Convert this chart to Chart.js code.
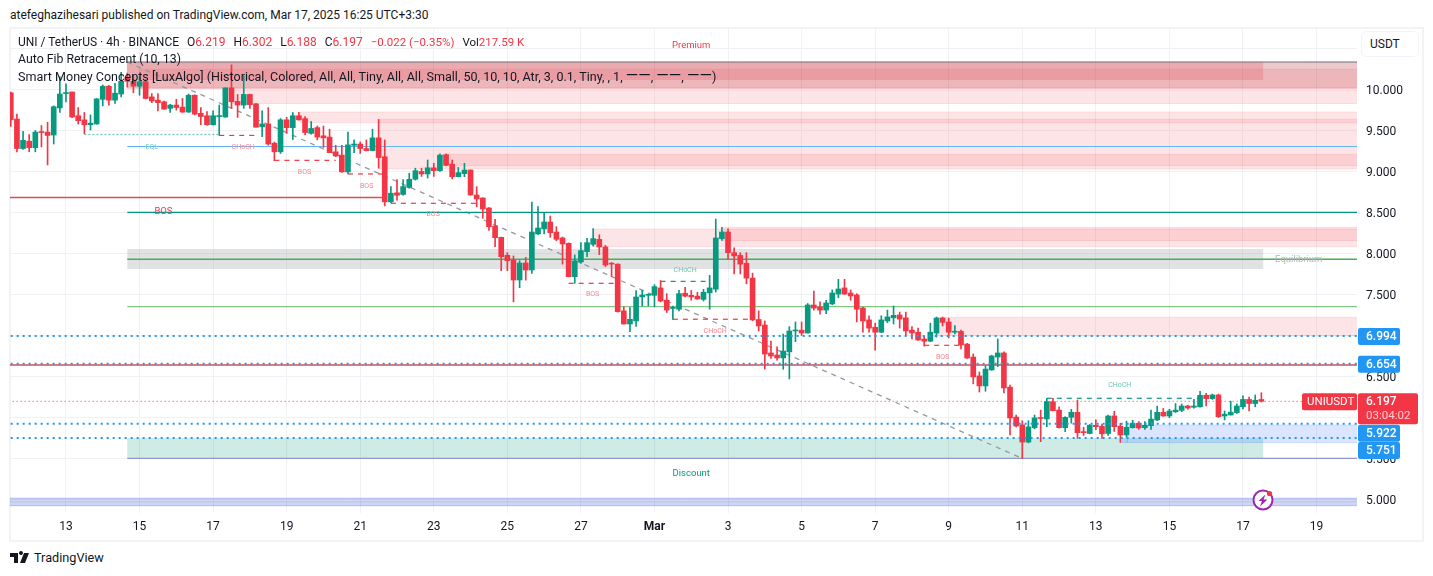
<!DOCTYPE html>
<html>
<head>
<meta charset="utf-8">
<title>UNI / TetherUS</title>
<script src="https://cdn.jsdelivr.net/npm/chart.js@4"></script>
<style>
  html, body { margin: 0; padding: 0; background: #fff; width: 1433px; height: 576px; overflow: hidden; font-family: Roboto, sans-serif; color: #131722; }
  #published { position: absolute; left: 10px; top: 7px; font-size: 12px; line-height: 16px; white-space: nowrap; }
  #frame { position: absolute; left: 9px; top: 27px; width: 1411px; height: 511px; border: 2px solid #f2f3f5; }
  #chart { position: absolute; left: 10px; top: 28px; }
  .legend-line { position: absolute; left: 18px; font-size: 12.3px; line-height: 16px; white-space: nowrap; }
  .legend-line b { font-weight: 400; color: #f23645; }
  .legend-line span { margin-left: 8px; }
  .legend-line span.tight { font-size: 11.5px; }
  .legend-line i { font-style: normal; font-size: 16px; }
  #unit { position: absolute; left: 1361px; top: 31px; width: 48px; height: 24px; padding-left: 8px; border: 1px solid #f0f3fa; border-radius: 6px; background: #fff; font-size: 12px; line-height: 24px; }
  #brand { position: absolute; left: 10px; top: 550px; height: 16px; }
  #brand-name { position: absolute; left: 34px; top: 550px; font-size: 12.7px; line-height: 16px; }
  #bolt { position: absolute; left: 1250px; top: 487px; }
</style>
</head>
<body>
<div id="published">atefeghazihesari published on TradingView.com, Mar 17, 2025 16:25 UTC+3:30</div>
<div id="frame"></div>
<canvas id="chart" width="1414" height="513"></canvas>
<div class="legend-line" style="top:34px;font-size:12px">UNI / TetherUS · 4h · BINANCE<span>O<b>6.219</b></span><span>H<b>6.302</b></span><span>L<b>6.188</b></span><span>C<b>6.197</b></span><span class="tight"><b>−0.022 (−0.35%)</b></span><span class="tight">Vol<b>217.59 K</b></span></div>
<div class="legend-line" style="top:51px">Auto Fib Retracement (10, 13)</div>
<div class="legend-line" style="top:68px;font-size:12.55px">Smart Money Concepts [LuxAlgo] (Historical, Colored, All, All, Tiny, All, All, Small, 50, 10, 10, Atr, 3, 0.1, Tiny, , 1, <i>——</i>, <i>——</i>, <i>——</i>)</div>
<div id="unit">USDT</div>
<svg id="brand" width="20" height="16" viewBox="0 0 20 16"><path fill="#131722" d="M0 3h8v10H4V7H0zM9 3a2 2 0 1 1 0 .01zM14 3h5l-4 10h-5z"/></svg>
<div id="brand-name">TradingView</div>
<svg id="bolt" width="27" height="27" viewBox="0 0 27 27">
  <circle cx="13" cy="13" r="9.5" fill="#fff" stroke="#9c27b0" stroke-width="2"/>
  <path fill="#9c27b0" d="M15.5 7.5 8.5 14h3.5l-2 5.5 7.5-7h-4z"/>
  <circle cx="19.5" cy="6.5" r="2.6" fill="#f23645"/>
</svg>
<script>
// candle 0 is the one sitting on the "13" tick, candles are 4h apart
const firstCandle = -9
const candleOpen = [
  9.96, 9.64, 9.28, 9.37, 9.29, 9.485, 9.48, 9.445, 9.775, 9.95,
  9.97, 9.68, 9.63, 9.57, 9.58, 9.88, 10.04, 9.87, 9.945, 10.15,
  10.1, 10.04, 10.095, 9.91, 9.87, 9.85, 9.77, 9.81, 9.785, 9.725,
  9.93, 9.71, 9.68, 9.57, 9.67, 9.665, 10.02, 9.855, 9.81, 9.94,
  9.825, 9.545, 9.58, 9.345, 9.24, 9.63, 9.535, 9.68, 9.645, 9.465,
  9.535, 9.435, 9.42, 9.24, 9.2, 8.995, 9.32, 9.335, 9.28, 9.255,
  9.41, 9.18, 8.63, 8.74, 8.72, 8.805, 8.905, 9.0, 8.97, 9.045,
  9.01, 9.205, 9.09, 8.937, 8.974, 9.018, 8.713, 8.677, 8.555, 8.335,
  8.197, 7.978, 7.92, 7.677, 7.884, 7.799, 8.238, 8.3, 8.384, 8.262,
  8.19, 8.124, 7.717, 7.897, 8.023, 8.112, 8.173, 8.08, 7.875, 7.87,
  7.3, 7.14, 7.177, 7.47, 7.49, 7.49, 7.58, 7.43, 7.33, 7.32,
  7.515, 7.49, 7.48, 7.44, 7.52, 7.565, 8.18, 8.262, 8.01, 7.977,
  7.88, 7.7, 7.195, 7.128, 6.787, 6.762, 6.726, 6.8, 7.055, 7.065,
  7.03, 7.372, 7.347, 7.31, 7.385, 7.505, 7.58, 7.518, 7.495, 7.335,
  7.19, 7.1, 7.04, 7.177, 7.215, 7.25, 7.215, 7.065, 7.04, 6.957,
  6.93, 7.03, 7.213, 7.165, 7.04, 7.05, 6.895, 6.737, 6.507, 6.385,
  6.58, 6.737, 6.787, 6.37, 6.005, 5.91, 5.7, 5.875, 5.994, 5.982,
  6.193, 6.09, 5.876, 6.002, 6.063, 5.82, 5.805, 5.905, 5.895, 5.805,
  6.018, 5.895, 5.787, 5.876, 5.93, 5.876, 5.9, 5.97, 6.063, 6.018,
  6.07, 6.087, 6.14, 6.125, 6.13, 6.27, 6.23, 6.275, 6.018, 6.03,
  6.06, 6.13, 6.22, 6.17, 6.219,
]
const candleHigh = [
  9.97, 9.7, 9.49, 9.45, 9.5, 9.56, 9.6, 9.8, 10.155, 10.07,
  9.97, 9.78, 9.72, 9.69, 9.89, 10.055, 10.05, 10.075, 10.21, 10.2,
  10.18, 10.155, 10.12, 9.95, 9.95, 9.86, 9.82, 9.88, 9.89, 9.945,
  9.935, 9.78, 9.73, 9.74, 9.81, 10.02, 10.3, 9.94, 10.16, 9.945,
  9.83, 9.74, 9.78, 9.36, 9.645, 9.66, 9.72, 9.72, 9.67, 9.61,
  9.555, 9.555, 9.515, 9.32, 9.32, 9.48, 9.385, 9.36, 9.385, 9.515,
  9.635, 9.385, 8.815, 8.9, 8.9, 8.98, 9.04, 9.04, 9.14, 9.1,
  9.215, 9.215, 9.14, 9.05, 9.1, 9.02, 8.815, 8.68, 8.56, 8.417,
  8.2, 8.01, 7.97, 7.913, 7.953, 8.628, 8.571, 8.498, 8.457, 8.327,
  8.2, 8.13, 7.982, 8.132, 8.185, 8.303, 8.228, 8.1, 7.89, 7.875,
  7.35, 7.34, 7.547, 7.55, 7.51, 7.62, 7.67, 7.51, 7.36, 7.55,
  7.587, 7.55, 7.527, 7.563, 7.733, 8.42, 8.319, 8.3, 8.07, 8.01,
  8.01, 7.76, 7.3, 7.177, 6.933, 6.863, 7.018, 7.108, 7.165, 7.165,
  7.39, 7.543, 7.41, 7.43, 7.555, 7.685, 7.685, 7.555, 7.51, 7.345,
  7.24, 7.15, 7.24, 7.31, 7.36, 7.285, 7.285, 7.11, 7.09, 6.99,
  7.15, 7.225, 7.225, 7.21, 7.12, 7.065, 6.905, 6.775, 6.555, 6.63,
  6.76, 6.957, 6.8, 6.395, 6.03, 5.96, 5.96, 6.03, 6.09, 6.233,
  6.233, 6.13, 6.01, 6.1, 6.213, 5.88, 5.915, 5.97, 5.92, 6.03,
  6.075, 5.93, 5.955, 5.965, 5.95, 5.95, 6.09, 6.14, 6.11, 6.1,
  6.17, 6.165, 6.15, 6.22, 6.32, 6.295, 6.285, 6.285, 6.08, 6.2,
  6.165, 6.265, 6.25, 6.275, 6.302,
]
const candleLow = [
  9.55, 9.24, 9.27, 9.24, 9.24, 9.3, 9.08, 9.335, 9.72, 9.85,
  9.655, 9.58, 9.46, 9.505, 9.575, 9.8, 9.81, 9.83, 9.91, 10.03,
  9.96, 9.93, 9.885, 9.84, 9.74, 9.76, 9.72, 9.75, 9.72, 9.72,
  9.69, 9.57, 9.565, 9.565, 9.44, 9.66, 9.77, 9.66, 9.77, 9.77,
  9.54, 9.425, 9.32, 9.13, 9.22, 9.465, 9.39, 9.625, 9.445, 9.455,
  9.385, 9.295, 9.23, 9.18, 8.99, 8.97, 9.23, 9.22, 9.25, 9.25,
  9.04, 8.58, 8.62, 8.65, 8.71, 8.795, 8.895, 8.94, 8.92, 8.94,
  9.0, 9.07, 8.91, 8.935, 8.937, 8.71, 8.57, 8.43, 8.28, 8.083,
  7.79, 7.79, 7.41, 7.583, 7.675, 7.756, 8.23, 8.24, 8.197, 8.155,
  7.87, 7.715, 7.637, 7.88, 7.961, 8.09, 7.986, 7.84, 7.717, 7.285,
  7.14, 7.047, 7.11, 7.36, 7.36, 7.35, 7.41, 7.28, 7.197, 7.3,
  7.47, 7.43, 7.44, 7.42, 7.32, 7.53, 8.16, 7.93, 7.75, 7.75,
  7.63, 7.18, 7.055, 6.59, 6.72, 6.7, 6.587, 6.47, 6.925, 7.0,
  7.03, 7.31, 7.26, 7.265, 7.375, 7.46, 7.5, 7.43, 7.165, 7.04,
  7.04, 6.82, 7.035, 7.155, 7.14, 7.09, 7.0, 6.957, 6.94, 6.87,
  6.925, 6.98, 7.115, 6.97, 7.02, 6.835, 6.72, 6.41, 6.31, 6.32,
  6.575, 6.62, 6.3, 5.787, 5.885, 5.5, 5.69, 5.86, 5.705, 5.888,
  6.08, 5.87, 5.827, 5.93, 5.745, 5.78, 5.8, 5.85, 5.745, 5.78,
  5.83, 5.695, 5.76, 5.87, 5.855, 5.855, 5.855, 5.96, 6.015, 5.998,
  6.06, 6.07, 6.1, 6.115, 6.125, 6.14, 6.22, 6.0, 5.97, 6.03,
  6.05, 6.105, 6.08, 6.13, 6.188,
]
const candleClose = [
  9.63, 9.28, 9.38, 9.29, 9.48, 9.475, 9.44, 9.79, 9.945, 9.955,
  9.665, 9.62, 9.57, 9.59, 9.885, 10.04, 9.87, 9.955, 10.1, 10.1,
  10.04, 10.095, 9.89, 9.86, 9.84, 9.76, 9.81, 9.78, 9.725, 9.93,
  9.7, 9.67, 9.57, 9.68, 9.68, 10.02, 9.85, 9.81, 9.94, 9.815,
  9.54, 9.58, 9.335, 9.24, 9.63, 9.535, 9.68, 9.63, 9.475, 9.525,
  9.42, 9.41, 9.23, 9.19, 8.995, 9.325, 9.335, 9.28, 9.255, 9.41,
  9.17, 8.63, 8.735, 8.71, 8.815, 8.905, 9.01, 8.97, 9.045, 9.01,
  9.2, 9.075, 8.937, 8.986, 9.018, 8.713, 8.665, 8.543, 8.327, 8.193,
  7.961, 7.913, 7.677, 7.884, 7.799, 8.262, 8.311, 8.384, 8.254, 8.173,
  8.116, 7.717, 7.909, 8.035, 8.132, 8.181, 8.08, 7.859, 7.87, 7.29,
  7.14, 7.197, 7.47, 7.494, 7.5, 7.596, 7.42, 7.31, 7.34, 7.51,
  7.48, 7.47, 7.445, 7.527, 7.58, 8.189, 8.262, 8.01, 7.97, 7.87,
  7.7, 7.19, 7.116, 6.774, 6.75, 6.726, 6.81, 7.055, 7.065, 7.03,
  7.372, 7.335, 7.31, 7.396, 7.518, 7.567, 7.505, 7.482, 7.32, 7.177,
  7.09, 7.04, 7.19, 7.226, 7.246, 7.2, 7.055, 7.03, 6.945, 6.93,
  7.04, 7.213, 7.16, 7.04, 7.05, 6.884, 6.725, 6.494, 6.385, 6.59,
  6.75, 6.787, 6.36, 5.994, 5.896, 5.7, 5.885, 5.995, 5.988, 6.193,
  6.083, 5.876, 6.002, 6.063, 5.815, 5.815, 5.905, 5.888, 5.8, 6.018,
  5.888, 5.787, 5.88, 5.93, 5.873, 5.905, 5.98, 6.063, 6.018, 6.079,
  6.09, 6.14, 6.115, 6.14, 6.27, 6.23, 6.275, 6.01, 6.04, 6.065,
  6.14, 6.22, 6.17, 6.21, 6.197,
]

const xTickCandles = [0, 12, 24, 36, 48, 60, 72, 84, 96, 108, 120, 132, 144, 156, 168, 180, 192, 204]
const xTickLabels = ['13', '15', '17', '19', '21', '23', '25', '27', 'Mar', '3', '5', '7', '9', '11', '13', '15', '17', '19']
const yTicks = [5, 5.5, 6, 6.5, 7, 7.5, 8, 8.5, 9, 9.5, 10, 10.5]

// price levels: from candle, to candle, price, kind
const levelFrom = [10, 10, -10, 10, 10, 10, -10, 10, -10]
const levelTo = [211, 211, 52, 211, 211, 211, 211, 211, 211]
const levelPrice = [10.335, 9.305, 8.683, 8.502, 7.93, 7.352, 6.64, 5.5, 4.97]
const levelKind = ['fib', 'eql', 'red', 'teal', 'green', 'lightGreen', 'red2', 'violet', 'band']

// structure breaks, dashed
const breakFrom = [25, 34, 46, 53, 82, 97, 99, 140, 160]
const breakTo = [31, 44, 52, 67, 90, 105, 112, 146, 185]
const breakPrice = [9.44, 9.136, 8.97, 8.612, 7.636, 7.66, 7.198, 6.88, 6.234]
const breakUp = [false, false, false, false, false, true, false, false, true]

const dottedLevels = [6.994, 6.654, 5.922, 5.751]
const lastPrice = 6.197

const zoneFrom = [10, 10, 12, 27, 38.2, 51.2, 62, 86, 107, 142.2, 10, 10, 172.3, 173.1, -10]
const zoneTo = [195.3, 211, 211, 211, 211, 211, 211, 211, 211, 211, 195.3, 195.3, 173.1, 211, 211]
const zoneTop = [10.335, 10.335, 10.246, 9.994, 9.726, 9.637, 9.21, 8.299, 8.32, 7.222, 8.055, 5.75, 5.75, 5.909, 5.015]
const zoneBottom = [10.116, 10.015, 10.015, 9.829, 9.595, 9.03, 9.071, 8.083, 8.156, 6.994, 7.811, 5.5, 5.693, 5.693, 4.924]
const zoneKind = ['premium', 'premiumWide', 'supply', 'supply', 'supply', 'supply', 'supply', 'supply', 'supply', 'supply', 'gray', 'discount', 'demand', 'demand', 'band']

const smcText = ['EQL', 'CHoCH', 'BOS', 'BOS', 'BOS', 'BOS', 'BOS', 'CHoCH', 'CHoCH', 'BOS', 'CHoCH', 'Premium', 'Equilibrium', 'Discount']
const smcCandle = [14, 28.9, 38.9, 49.05, 59.9, 15.9, 85.9, 101, 105.9, 143, 171.9, 102, 201.1, 102]
const smcPrice = [9.29, 9.29, 8.99, 8.815, 8.473, 8.515, 7.5, 7.8, 7.05, 6.74, 6.39, 10.54, 7.92, 5.31]
const smcTone = ['teal', 'red', 'red', 'red', 'red', 'strong', 'red', 'teal', 'red', 'red', 'teal', 'zoneRed', 'zoneGray', 'zoneTeal']

const UP = '#089981'
const DOWN = '#f23645'

const levelStyles = {
  fib: { color: '#787b86', width: 1 },
  eql: { color: '#64b5f6', width: 1.2 },
  red: { color: '#dd4b58', width: 1.3 },
  teal: { color: '#009688', width: 1.3 },
  green: { color: '#4caf50', width: 1.3 },
  lightGreen: { color: '#81c784', width: 1.2 },
  red2: { color: '#f44336', width: 1.3 },
  violet: { color: '#8f96c8', width: 1.3 },
  band: { color: 'rgba(150,165,225,0.35)', width: 1 },
}
const zoneStyles = {
  premium: { fill: 'rgba(242,54,69,0.2)', line: null },
  premiumWide: { fill: 'rgba(178,40,51,0.25)', line: 'rgba(178,40,51,0.15)' },
  supply: { fill: 'rgba(242,54,69,0.13)', line: 'rgba(242,54,69,0.12)' },
  gray: { fill: 'rgba(120,123,134,0.22)', line: null },
  discount: { fill: 'rgba(8,153,129,0.2)', line: null },
  demand: { fill: 'rgba(41,98,255,0.17)', line: 'rgba(41,98,255,0.16)' },
  band: { fill: 'rgba(63,90,210,0.25)', line: 'rgba(63,90,210,0.3)' },
}
const smcStyles = {
  teal: { color: '#6cc7b1', font: '7px Roboto' },
  red: { color: '#f7848c', font: '7px Roboto' },
  strong: { color: '#f23645', font: '9.5px Roboto' },
  zoneRed: { color: '#f23645', font: '9.5px Roboto' },
  zoneGray: { color: '#b2b5be', font: '9.5px Roboto' },
  zoneTeal: { color: '#089981', font: '9.5px Roboto' },
}

const candleIndex = candleClose.map((_, i) => firstCandle + i)
const candleColor = candleClose.map((c, i) => (c >= candleOpen[i] ? UP : DOWN))

function lineDataset(x1, x2, y1, y2, color, width, dash, order) {
  return {
    type: 'line',
    data: [{ x: x1, y: y1 }, { x: x2, y: y2 }],
    borderColor: color,
    borderWidth: width,
    borderDash: dash,
    pointRadius: 0,
    fill: false,
    order,
  }
}

const levelSets = levelPrice.map((p, i) => {
  const style = levelStyles[levelKind[i]]
  return lineDataset(levelFrom[i], levelTo[i], p, p, style.color, style.width, [], 3)
})
const breakSets = breakPrice.map((p, i) =>
  lineDataset(breakFrom[i], breakTo[i], p, p, breakUp[i] ? UP : DOWN, 1.2, [5, 5], 3),
)
const dottedSets = dottedLevels.map((p) => lineDataset(-10, 211, p, p, '#2196f3', 2, [2, 4], 0))

const overlays = {
  id: 'overlays',
  beforeDatasetsDraw(chart) {
    const { ctx, chartArea, scales } = chart
    ctx.save()
    ctx.beginPath()
    ctx.rect(chartArea.left, chartArea.top, chartArea.width, chartArea.height)
    ctx.clip()
    zoneTop.forEach((top, i) => {
      const style = zoneStyles[zoneKind[i]]
      const x = scales.x.getPixelForValue(zoneFrom[i])
      const w = scales.x.getPixelForValue(zoneTo[i]) - x
      const y = scales.y.getPixelForValue(top)
      const h = scales.y.getPixelForValue(zoneBottom[i]) - y
      ctx.fillStyle = style.fill
      ctx.fillRect(x, y, w, h)
      if (style.line) {
        ctx.strokeStyle = style.line
        ctx.lineWidth = 1
        ctx.strokeRect(x, y, w, h)
      }
    })
    ctx.restore()
  },
  afterDraw(chart) {
    const { ctx, chartArea, scales } = chart
    ctx.save()
    ctx.textBaseline = 'middle'
    ctx.textAlign = 'center'
    smcText.forEach((text, i) => {
      const style = smcStyles[smcTone[i]]
      ctx.font = style.font
      ctx.fillStyle = style.color
      ctx.fillText(text, scales.x.getPixelForValue(smcCandle[i]), scales.y.getPixelForValue(smcPrice[i]))
    })

    // axis tags, the two low ones get pushed down so they do not overlap
    const tagNudge = [0, 0, 9, 12]
    const left = chartArea.right + 1
    ctx.font = '500 12px Roboto'
    dottedLevels.forEach((p, i) => {
      const y = scales.y.getPixelForValue(p) + tagNudge[i]
      ctx.fillStyle = '#2196f3'
      ctx.beginPath()
      ctx.roundRect(left, y - 8, 42, 17, 2)
      ctx.fill()
      ctx.fillStyle = '#fff'
      ctx.textAlign = 'left'
      ctx.fillText(p.toFixed(3), left + 8, y + 1)
    })
    const y = scales.y.getPixelForValue(lastPrice)
    ctx.fillStyle = DOWN
    ctx.beginPath()
    ctx.roundRect(left, y - 8, 60, 31, 2)
    ctx.fill()
    ctx.beginPath()
    ctx.roundRect(left - 56, y - 8, 55, 17, 2)
    ctx.fill()
    ctx.fillStyle = '#fff'
    ctx.fillText(lastPrice.toFixed(3), left + 8, y + 1)
    ctx.font = '11.5px Roboto'
    ctx.fillText('UNIUSDT', left - 51, y + 1)
    ctx.fillStyle = 'rgba(255,255,255,0.75)'
    ctx.fillText('03:04:02', left + 8, y + 15)
    ctx.restore()
  },
}

new Chart(document.getElementById('chart'), {
  type: 'bar',
  data: {
    datasets: [
      ...levelSets,
      ...breakSets,
      lineDataset(-10, 201.6, lastPrice, lastPrice, DOWN, 1, [1, 3], 3),
      lineDataset(3, 25, 9.451, 9.451, '#6cc7b1', 1.2, [2, 2], 3),
      lineDataset(10, 156, 10.335, 5.5, '#9598a1', 1.3, [5, 5], 3),
      ...dottedSets,
      {
        label: 'wick',
        data: candleIndex.map((x, i) => ({ x, y: [candleLow[i], candleHigh[i]] })),
        backgroundColor: candleColor,
        barThickness: 1,
        grouped: false,
        order: 2,
      },
      {
        label: 'body',
        data: candleIndex.map((x, i) => ({ x, y: [candleOpen[i], candleClose[i]] })),
        backgroundColor: candleColor,
        barThickness: 5,
        minBarLength: 1,
        grouped: false,
        order: 1,
      },
    ],
  },
  options: {
    responsive: false,
    animation: false,
    devicePixelRatio: 1,
    layout: { padding: 0, autoPadding: false },
    plugins: { legend: { display: false }, tooltip: { enabled: false } },
    scales: {
      x: {
        type: 'linear',
        offset: false,
        min: -9.13,
        max: 210.6,
        afterBuildTicks(scale) {
          scale.ticks = xTickCandles.map((value) => ({ value }))
        },
        afterFit(scale) {
          scale.height = 28
          scale.paddingLeft = 0
          scale.paddingRight = 0
        },
        grid: { color: '#f0f1f4', drawTicks: false, offset: false },
        border: { display: false },
        ticks: {
          autoSkip: false,
          maxRotation: 0,
          padding: 7,
          color: '#131722',
          font: (ctx) => ({ family: 'Roboto', size: 12, weight: ctx.tick && ctx.tick.value === 96 ? 700 : 400 }),
          callback: (value) => xTickLabels[xTickCandles.indexOf(value)],
        },
      },
      y: {
        type: 'linear',
        position: 'right',
        min: 4.835,
        max: 10.75,
        afterBuildTicks(scale) {
          scale.ticks = yTicks.map((value) => ({ value }))
        },
        afterFit(scale) {
          scale.width = 67
          scale.paddingTop = 0
          scale.paddingBottom = 0
        },
        grid: { color: '#f0f1f4', drawTicks: false },
        border: { display: false },
        ticks: {
          padding: 9,
          labelOffset: 1.5,
          color: '#131722',
          font: { family: 'Roboto', size: 12 },
          // 10.500 sits under the USDT button
          callback: (value) => (value > 10 ? '' : value.toFixed(3)),
        },
      },
    },
  },
  plugins: [overlays],
})
</script>
</body>
</html>
